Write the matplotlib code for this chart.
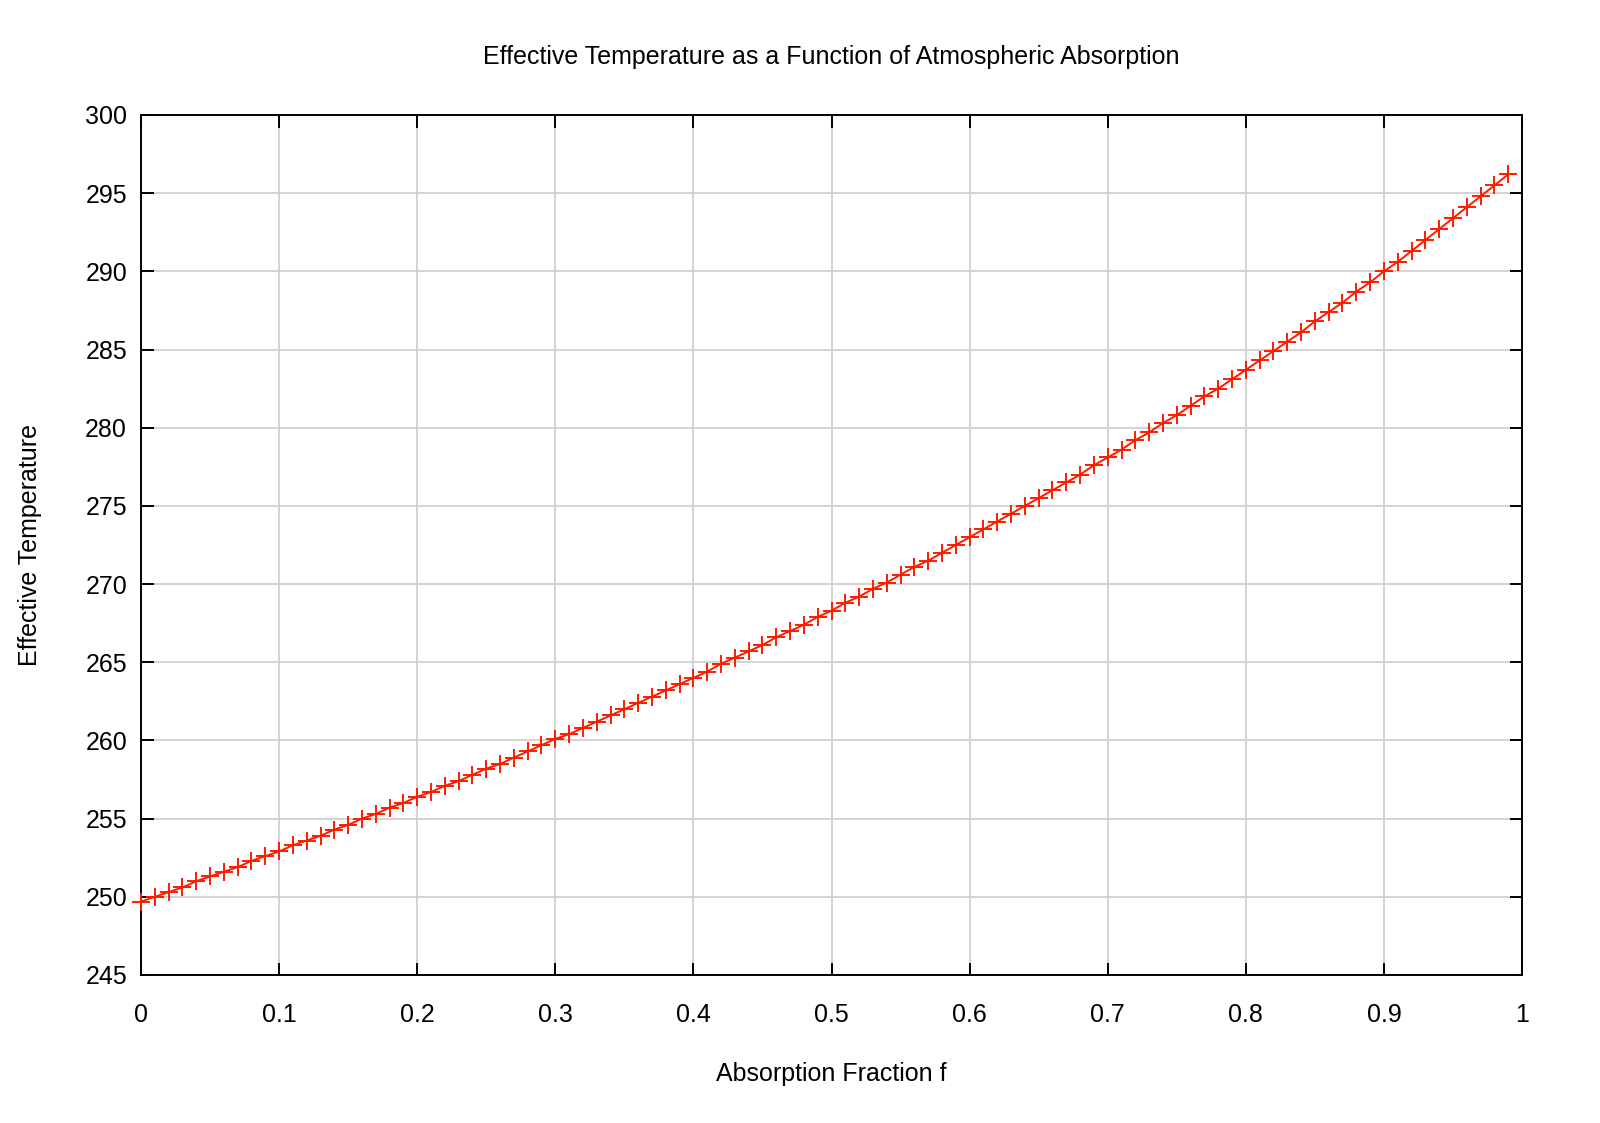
import matplotlib
matplotlib.use('Agg')
import matplotlib.pyplot as plt

plt.rcParams['font.family'] = ['Liberation Sans', 'DejaVu Sans']

# absorption fraction f, step 0.01
F = [i / 100 for i in range(100)]

# effective temperature
T_EFF = [
	249.7, 250.0, 250.3, 250.6, 251.0, 251.3, 251.6, 251.9, 252.3, 252.6,
	252.9, 253.3, 253.6, 253.9, 254.3, 254.6, 255.0, 255.3, 255.7, 256.0,
	256.4, 256.7, 257.1, 257.4, 257.8, 258.2, 258.5, 258.9, 259.3, 259.7,
	260.1, 260.4, 260.8, 261.2, 261.6, 262.0, 262.4, 262.8, 263.2, 263.6,
	264.0, 264.4, 264.9, 265.3, 265.7, 266.1, 266.6, 267.0, 267.4, 267.9,
	268.3, 268.8, 269.2, 269.7, 270.1, 270.6, 271.1, 271.5, 272.0, 272.5,
	273.0, 273.5, 274.0, 274.5, 275.0, 275.5, 276.0, 276.5, 277.0, 277.6,
	278.1, 278.6, 279.2, 279.7, 280.3, 280.8, 281.4, 282.0, 282.5, 283.1,
	283.7, 284.3, 284.9, 285.5, 286.1, 286.8, 287.4, 288.0, 288.7, 289.3,
	290.0, 290.6, 291.3, 292.0, 292.7, 293.4, 294.1, 294.8, 295.5, 296.2,
]

X_TICKS = [0, 0.1, 0.2, 0.3, 0.4, 0.5, 0.6, 0.7, 0.8, 0.9, 1]
X_TICK_LABELS = ['0', '0.1', '0.2', '0.3', '0.4', '0.5', '0.6', '0.7', '0.8', '0.9', '1']
Y_TICKS = list(range(245, 301, 5))

fig = plt.figure(figsize=(16, 11.23), dpi=100)
ax = fig.add_axes([141 / 1600, 1 - 975 / 1123, (1522 - 141) / 1600, (975 - 115) / 1123])

ax.plot(F, T_EFF, color='#ff1a00', lw=1.4, marker='+', ms=13, mew=1.4, clip_on=False, zorder=3)

ax.set_xlim(0, 1)
ax.set_ylim(245, 300)
ax.set_xticks(X_TICKS)
ax.set_xticklabels(X_TICK_LABELS)
ax.set_yticks(Y_TICKS)

ax.grid(True, color='#d0d0d0', lw=1.3)
ax.set_axisbelow(True)
for s in ax.spines.values():
	s.set_linewidth(1.4)
ax.tick_params(direction='in', length=9, width=1.4, labelsize=18, top=True, right=True)
ax.tick_params(axis='x', pad=20)
ax.tick_params(axis='y', pad=10)

ax.set_title('Effective Temperature as a Function of Atmospheric Absorption', fontsize=18, pad=37)
ax.set_xlabel('Absorption Fraction f', fontsize=18, labelpad=25)
ax.set_ylabel('Effective Temperature', fontsize=18, labelpad=31)

fig.savefig('out.png', dpi=100)
